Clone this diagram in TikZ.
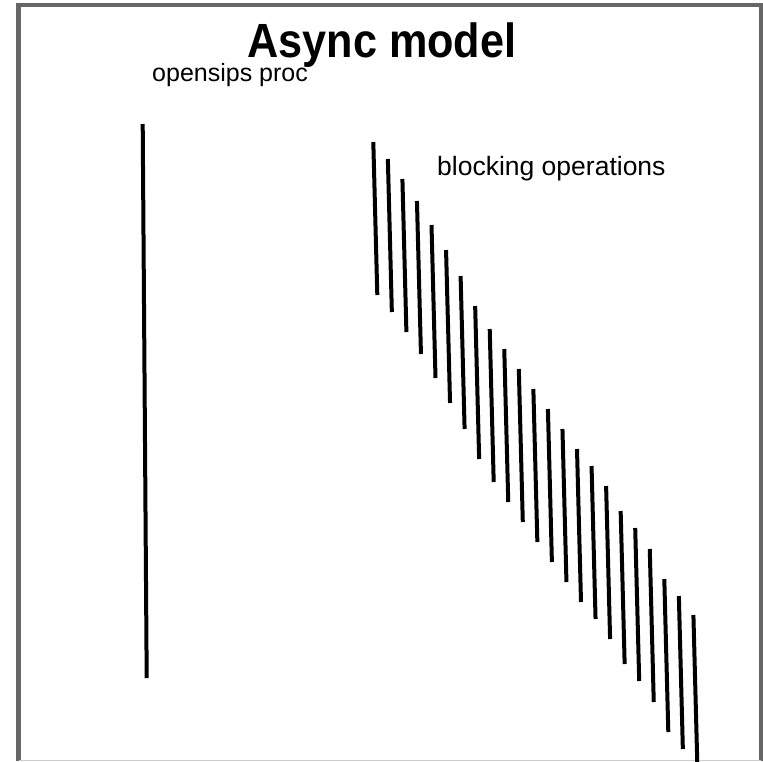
\documentclass[tikz,border=0pt]{standalone}
\usepackage{fontspec}
\setmainfont{Liberation Sans}
\usepackage{tikz}
\definecolor{framegray}{RGB}{102,102,102}
\definecolor{edgegray}{RGB}{205,205,205}

\begin{document}
\begin{tikzpicture}[x=1pt,y=-1pt,
	timeline/.style={line width=4pt},
	procname/.style={inner sep=0pt,anchor=base west,font=\fontsize{25}{30}\selectfont}]
	\useasboundingbox (0,0) rectangle (763,761);
	\draw[framegray,line width=4.5pt] (18.5,761) -- (18.5,5) -- (761,5) -- (761,761);
	\draw[edgegray,line width=1pt] (18.5,760) -- (761,760);
	\node[inner sep=0pt,anchor=base,font=\bfseries\fontsize{48}{52}\selectfont,xscale=0.9] (title) at (382,57) {Async model};
	\node[procname] (proc) at (152,81) {opensips proc};
	\node[procname,font=\fontsize{26.5}{30}\selectfont] (blocking) at (437,175) {blocking operations};
	\draw[timeline] (142.7,124) -- (146.7,678);
	\foreach \ystart [count=\i from 0] in {142,159,179,201,225,250,276,306,329,349,369,389,409,429,449,466,486,511,528,549,579,596,615}
		\draw[timeline] ({373.3+14.55*\i},\ystart) -- ++(4,153);
\end{tikzpicture}
\end{document}
